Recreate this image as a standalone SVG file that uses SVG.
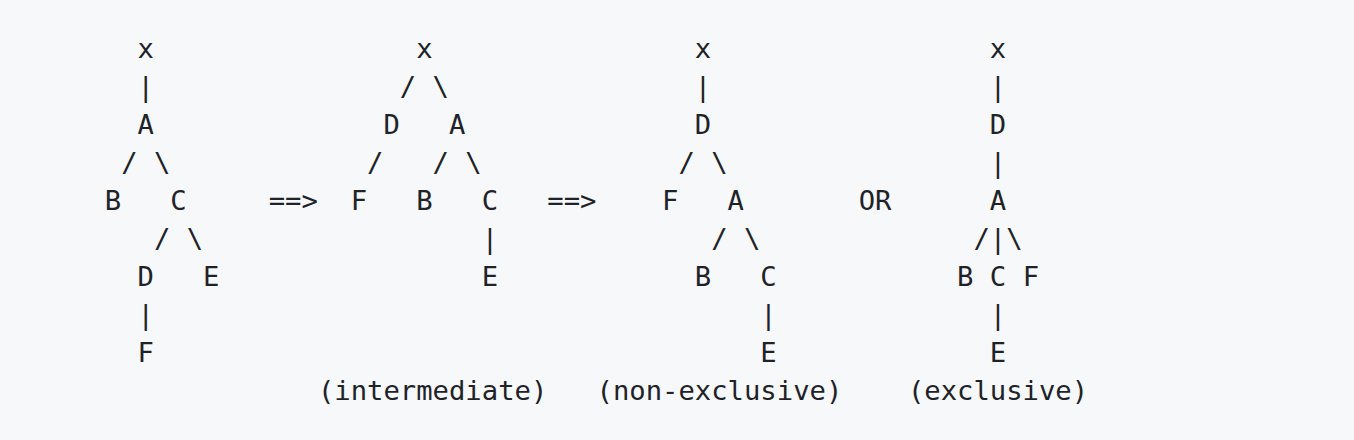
<svg xmlns="http://www.w3.org/2000/svg" width="1354" height="440" viewBox="0 0 1354 440">
<style>
.t text{font-family:"DejaVu Sans Mono","Liberation Mono",monospace;font-size:27.22px;fill:#1f2328;white-space:pre}
</style>
<rect width="1354" height="440" fill="#f6f8fa"/>
<g id="tree1" class="t">
<text xml:space="preserve" x="104.8" y="58">  x</text>
<text xml:space="preserve" x="104.8" y="96">  |</text>
<text xml:space="preserve" x="104.8" y="134">  A</text>
<text xml:space="preserve" x="104.8" y="172"> / \</text>
<text xml:space="preserve" x="104.8" y="210">B   C</text>
<text xml:space="preserve" x="104.8" y="248">   / \</text>
<text xml:space="preserve" x="104.8" y="286">  D   E</text>
<text xml:space="preserve" x="104.8" y="324">  |</text>
<text xml:space="preserve" x="104.8" y="362">  F</text>
</g>
<g id="arrow1" class="t"><text x="268.7" y="210">==&gt;</text></g>
<g id="tree2" class="t">
<text xml:space="preserve" x="350.65" y="58">    x</text>
<text xml:space="preserve" x="350.65" y="96">   / \</text>
<text xml:space="preserve" x="350.65" y="134">  D   A</text>
<text xml:space="preserve" x="350.65" y="172"> /   / \</text>
<text xml:space="preserve" x="350.65" y="210">F   B   C</text>
<text xml:space="preserve" x="350.65" y="248">        |</text>
<text xml:space="preserve" x="350.65" y="286">        E</text>
<text x="317.9" y="400">(intermediate)</text>
</g>
<g id="arrow2" class="t"><text x="547.3" y="210">==&gt;</text></g>
<g id="tree3" class="t">
<text xml:space="preserve" x="662.06" y="58">  x</text>
<text xml:space="preserve" x="662.06" y="96">  |</text>
<text xml:space="preserve" x="662.06" y="134">  D</text>
<text xml:space="preserve" x="662.06" y="172"> / \</text>
<text xml:space="preserve" x="662.06" y="210">F   A</text>
<text xml:space="preserve" x="662.06" y="248">   / \</text>
<text xml:space="preserve" x="662.06" y="286">  B   C</text>
<text xml:space="preserve" x="662.06" y="324">      |</text>
<text xml:space="preserve" x="662.06" y="362">      E</text>
<text x="596.5" y="400">(non-exclusive)</text>
</g>
<g id="or" class="t"><text x="858.7" y="210">OR</text></g>
<g id="tree4" class="t">
<text xml:space="preserve" x="957.08" y="58">  x</text>
<text xml:space="preserve" x="957.08" y="96">  |</text>
<text xml:space="preserve" x="957.08" y="134">  D</text>
<text xml:space="preserve" x="957.08" y="172">  |</text>
<text xml:space="preserve" x="957.08" y="210">  A</text>
<text xml:space="preserve" x="957.08" y="248"> /|\</text>
<text xml:space="preserve" x="957.08" y="286">B C F</text>
<text xml:space="preserve" x="957.08" y="324">  |</text>
<text xml:space="preserve" x="957.08" y="362">  E</text>
<text x="907.9" y="400">(exclusive)</text>
</g>
</svg>
